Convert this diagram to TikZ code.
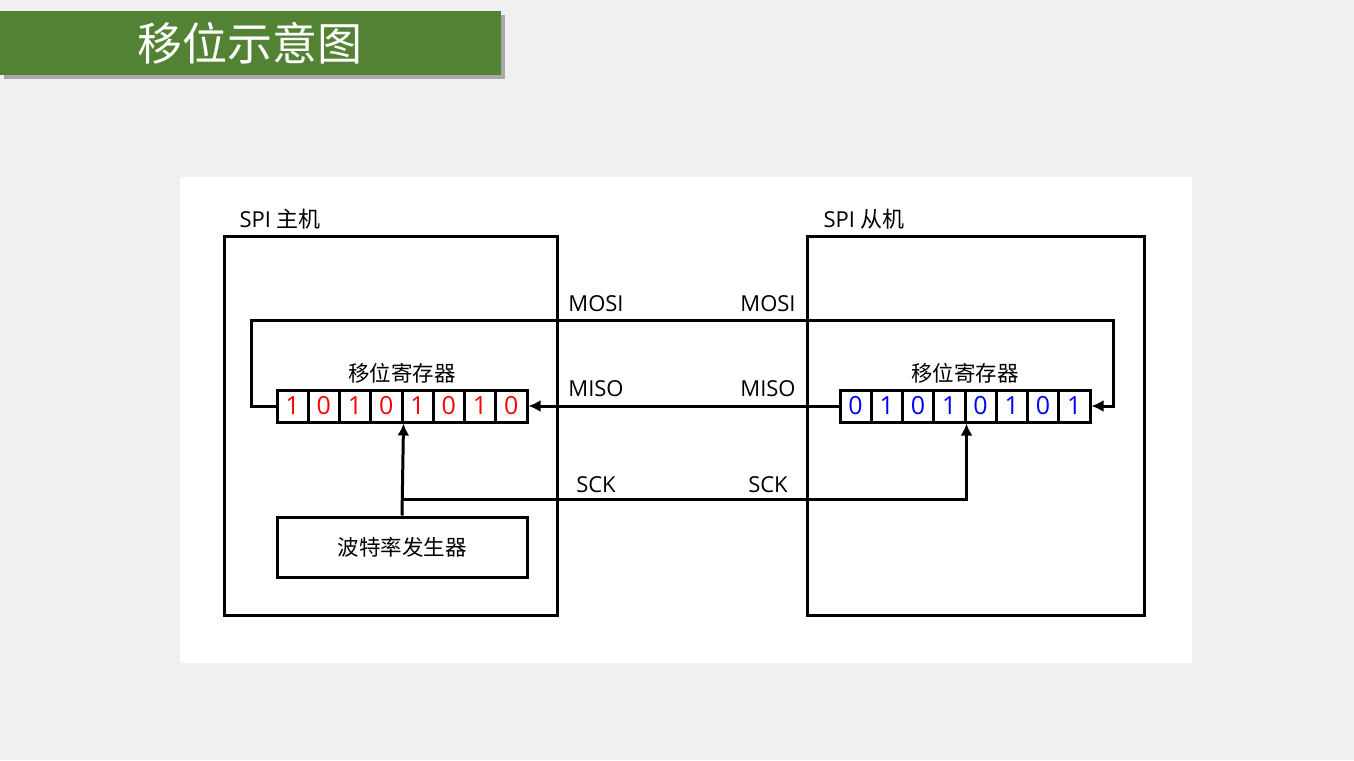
\documentclass[tikz,border=0pt]{standalone}
\usepackage{fontspec}
\setmainfont{Open Sans}
\newfontfamily\cjk{Noto Sans CJK SC}
\usetikzlibrary{arrows.meta}
\definecolor{bgc}{HTML}{F0F0F0}
\definecolor{titlegreen}{HTML}{548235}
\definecolor{shadowc}{HTML}{A8A8A8}
\definecolor{bitred}{HTML}{FF0000}
\definecolor{bitblue}{HTML}{0000FF}
\begin{document}
\begin{tikzpicture}[x=1pt,y=-1pt,
  line width=3pt, line join=miter,
  boxs/.style={draw=black, line width=3pt, inner sep=0pt, fill=none},
  cell/.style={draw=black, line width=3pt, inner sep=0pt, minimum width=31.25pt, minimum height=32pt, font=\fontsize{25}{28}\selectfont},
  lbl/.style={inner sep=0pt, font=\fontsize{22}{26}\selectfont},
  clbl/.style={inner sep=0pt, font=\cjk\fontsize{21.5}{26}\selectfont},
  arr/.style={-{Latex[length=12pt,width=12pt]}}]
\fill[bgc] (0,0) rectangle (1354,760);
\useasboundingbox (0,0) rectangle (1354,760);
\fill[white] (180,177) rectangle (1192,663);
% title banner
\fill[shadowc] (4,15) rectangle (505,79);
\fill[titlegreen] (0,11) rectangle (501,75);
\node[text=white, inner sep=0pt, font=\cjk\fontsize{45}{50}\selectfont] (title) at (250,43) {移位示意图};
% main boxes
\node[boxs, minimum width=333pt, minimum height=379pt] (master) at (390.5,425.5) {};
\node[boxs, minimum width=337pt, minimum height=379pt] (slave) at (975.5,425.5) {};
\node[lbl, anchor=west] (masterlbl) at (238,219) {SPI {\cjk 主机}};
\node[lbl, anchor=west] (slavelbl) at (822,219) {SPI {\cjk 从机}};
% registers
\foreach \b [count=\i] in {1,0,1,0,1,0,1,0} {
  \node[cell, text=bitred] (L\i) at ({277+31.25*(\i-0.5)},406) {\b};
}
\foreach \b [count=\i] in {0,1,0,1,0,1,0,1} {
  \node[cell, text=bitblue] (R\i) at ({840+31.25*(\i-0.5)},406) {\b};
}
\node[clbl] (regL) at (402,373) {移位寄存器};
\node[clbl] (regR) at (965,373) {移位寄存器};
% baud generator
\node[boxs, minimum width=250pt, minimum height=60pt, font=\cjk\fontsize{21.5}{26}\selectfont] (baud) at (402,547) {波特率发生器};
% connectors
\coordinate (mosiL) at (251,320);
\coordinate (mosiR) at (1113,320);
\coordinate (sckJ) at (402,499);
\draw[arr] (L1.west) -| (mosiL) -- (mosiR) |- (R8.east);
\draw[arr] (R1.west) -- (L8.east);
\draw[arr] (baud.north) -- (L4.south east);
\draw[arr] (sckJ) -| (R4.south east);
% signal labels
\node[lbl] (mosi1) at (596,304) {MOSI};
\node[lbl] (mosi2) at (768,304) {MOSI};
\node[lbl] (miso1) at (596,389) {MISO};
\node[lbl] (miso2) at (768,389) {MISO};
\node[lbl] (sck1) at (596,485) {SCK};
\node[lbl] (sck2) at (768,485) {SCK};
\end{tikzpicture}
\end{document}
